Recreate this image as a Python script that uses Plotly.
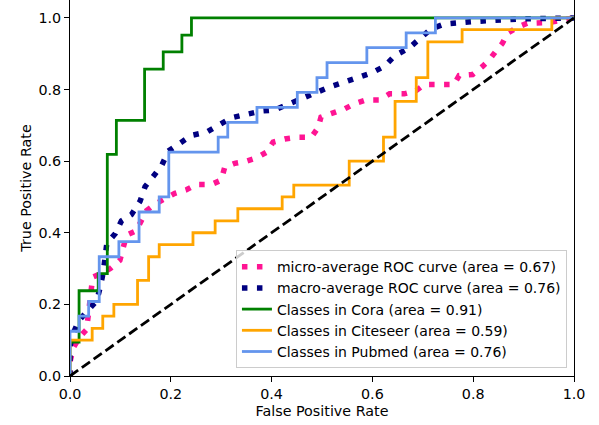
import plotly.graph_objects as go

# ---- data ----
micro_fpr = [0, 0, 0.007, 0.02, 0.033, 0.04, 0.045, 0.06, 0.08, 0.099, 0.112, 0.131, 0.152, 0.17, 0.191,
             0.208, 0.231, 0.251, 0.281, 0.3, 0.307, 0.327, 0.35, 0.37, 0.39, 0.403, 0.426, 0.452, 0.479,
             0.492, 0.498, 0.521, 0.545, 0.564, 0.588, 0.614, 0.634, 0.663, 0.687, 0.703, 0.762, 0.772,
             0.799, 0.818, 0.832, 0.845, 0.858, 0.868, 0.888, 0.907, 0.95, 0.987, 1.0]
micro_tpr = [0, 0.04, 0.08, 0.11, 0.13, 0.2, 0.276, 0.285, 0.30, 0.323, 0.393, 0.405, 0.462, 0.481, 0.495,
             0.51, 0.52, 0.535, 0.535, 0.547, 0.583, 0.594, 0.6, 0.609, 0.625, 0.653, 0.662, 0.667, 0.667,
             0.693, 0.723, 0.734, 0.746, 0.76, 0.771, 0.771, 0.788, 0.788, 0.797, 0.814, 0.814, 0.839,
             0.842, 0.864, 0.883, 0.907, 0.929, 0.957, 0.974, 0.985, 0.987, 0.997, 1.0]

macro_fpr = [0, 0, 0.004, 0.017, 0.033, 0.053, 0.06, 0.066, 0.073, 0.09, 0.102, 0.122, 0.139, 0.149,
             0.165, 0.182, 0.195, 0.218, 0.241, 0.271, 0.294, 0.32, 0.348, 0.38, 0.406, 0.436, 0.459,
             0.485, 0.513, 0.543, 0.571, 0.599, 0.624, 0.645, 0.672, 0.694, 0.716, 0.743, 0.772, 0.802,
             0.89, 0.95, 1.0]
macro_tpr = [0, 0.08, 0.111, 0.154, 0.179, 0.21, 0.248, 0.29, 0.37, 0.398, 0.433, 0.451, 0.488, 0.529,
             0.557, 0.588, 0.628, 0.648, 0.672, 0.681, 0.7, 0.721, 0.73, 0.74, 0.743, 0.76, 0.777,
             0.79, 0.806, 0.82, 0.833, 0.847, 0.865, 0.895, 0.915, 0.941, 0.969, 0.983, 0.988, 0.99,
             0.997, 1.0, 1.0]

cora_fpr = [0, 0, 0.018, 0.018, 0.056, 0.056, 0.074, 0.074, 0.092, 0.092, 0.148, 0.148, 0.185, 0.185,
            0.222, 0.222, 0.241, 0.241, 1.0]
cora_tpr = [0, 0.095, 0.095, 0.238, 0.238, 0.286, 0.286, 0.619, 0.619, 0.714, 0.714, 0.857, 0.857, 0.905,
            0.905, 0.952, 0.952, 1.0, 1.0]

citeseer_fpr = [0, 0, 0.044, 0.044, 0.065, 0.065, 0.087, 0.087, 0.134, 0.134, 0.156, 0.156, 0.177, 0.177,
                0.244, 0.244, 0.288, 0.288, 0.333, 0.333, 0.421, 0.421, 0.444, 0.444, 0.554, 0.554,
                0.622, 0.622, 0.645, 0.645, 0.687, 0.687, 0.710, 0.710, 0.778, 0.778, 0.956, 0.956, 1.0]
citeseer_tpr = [0, 0.1, 0.1, 0.133, 0.133, 0.167, 0.167, 0.2, 0.2, 0.267, 0.267, 0.333, 0.333, 0.367,
                0.367, 0.4, 0.4, 0.433, 0.433, 0.467, 0.467, 0.5, 0.5, 0.533, 0.533, 0.6, 0.6, 0.667,
                0.667, 0.767, 0.767, 0.833, 0.833, 0.933, 0.933, 0.967, 0.967, 1.0, 1.0]

pubmed_fpr = [0, 0, 0.018, 0.018, 0.037, 0.037, 0.058, 0.058, 0.097, 0.097, 0.137, 0.137, 0.177, 0.177,
              0.196, 0.196, 0.294, 0.294, 0.313, 0.313, 0.371, 0.371, 0.451, 0.451, 0.49, 0.49, 0.51,
              0.51, 0.589, 0.589, 0.667, 0.667, 0.725, 0.725, 1.0]
pubmed_tpr = [0, 0.125, 0.125, 0.167, 0.167, 0.208, 0.208, 0.333, 0.333, 0.375, 0.375, 0.458, 0.458,
              0.5, 0.5, 0.625, 0.625, 0.667, 0.667, 0.708, 0.708, 0.75, 0.75, 0.792, 0.792, 0.833,
              0.833, 0.875, 0.875, 0.917, 0.917, 0.958, 0.958, 1.0, 1.0]

chance = [0, 1]

names = ["micro-average ROC curve (area = 0.67)",
         "macro-average ROC curve (area = 0.76)",
         "Classes in Cora (area = 0.91)",
         "Classes in Citeseer (area = 0.59)",
         "Classes in Pubmed (area = 0.76)"]

x_ticks = [0.0, 0.2, 0.4, 0.6, 0.8, 1.0]
y_ticks = [0.0, 0.2, 0.4, 0.6, 0.8, 1.0]
tick_text = ["0.0", "0.2", "0.4", "0.6", "0.8", "1.0"]

FONT = "DejaVu Sans"
FS = 14.3
LFS = 14.0

fig = go.Figure()
fig.add_trace(go.Scatter(x=micro_fpr, y=micro_tpr, mode="lines", name=names[0],
                         line=dict(color="#FF1493", width=5.5, dash="5.5px,9.5px"), hoverinfo="skip"))
fig.add_trace(go.Scatter(x=macro_fpr, y=macro_tpr, mode="lines", name=names[1],
                         line=dict(color="#000080", width=5.5, dash="5.5px,9.5px"), hoverinfo="skip"))
fig.add_trace(go.Scatter(x=cora_fpr, y=cora_tpr, mode="lines", name=names[2],
                         line=dict(color="#008000", width=2.8), hoverinfo="skip"))
fig.add_trace(go.Scatter(x=citeseer_fpr, y=citeseer_tpr, mode="lines", name=names[3],
                         line=dict(color="#FFA500", width=2.8), hoverinfo="skip"))
fig.add_trace(go.Scatter(x=pubmed_fpr, y=pubmed_tpr, mode="lines", name=names[4],
                         line=dict(color="#6495ED", width=2.8), hoverinfo="skip"))
fig.add_trace(go.Scatter(x=chance, y=chance, mode="lines", showlegend=False,
                         line=dict(color="black", width=2.8, dash="10px,4.5px"), hoverinfo="skip"))

axis_common = dict(showgrid=False, zeroline=False, showline=True, linecolor="black", linewidth=1,
                   mirror=True, ticks="outside", ticklen=5, tickwidth=1, tickcolor="black",
                   automargin=False,
                   tickfont=dict(family=FONT, size=FS, color="black"))

fig.update_layout(
    width=599, height=425,
    margin=dict(l=70, r=25, t=0, b=49, autoexpand=False),
    paper_bgcolor="white", plot_bgcolor="white",
    font=dict(family=FONT, size=FS, color="black"),
    xaxis=dict(range=[0, 1], tickvals=x_ticks, ticktext=tick_text,
               title=dict(text="False Positive Rate", font=dict(family=FONT, size=FS), standoff=4),
               **axis_common),
    yaxis=dict(range=[0, 1.05], tickvals=y_ticks, ticktext=tick_text,
               title=dict(text="True Positive Rate", font=dict(family=FONT, size=FS), standoff=3),
               **axis_common),
    legend=dict(x=0.986, y=0.021, xanchor="right", yanchor="bottom",
                bgcolor="rgba(255,255,255,0.8)", bordercolor="#cccccc", borderwidth=1,
                font=dict(family=FONT, size=LFS, color="black"), itemwidth=30, tracegroupgap=0),
    showlegend=True,
)

fig.write_html("out.html", config={"displayModeBar": False},
               post_script="document.body.style.margin='0';document.body.style.padding='0';")
